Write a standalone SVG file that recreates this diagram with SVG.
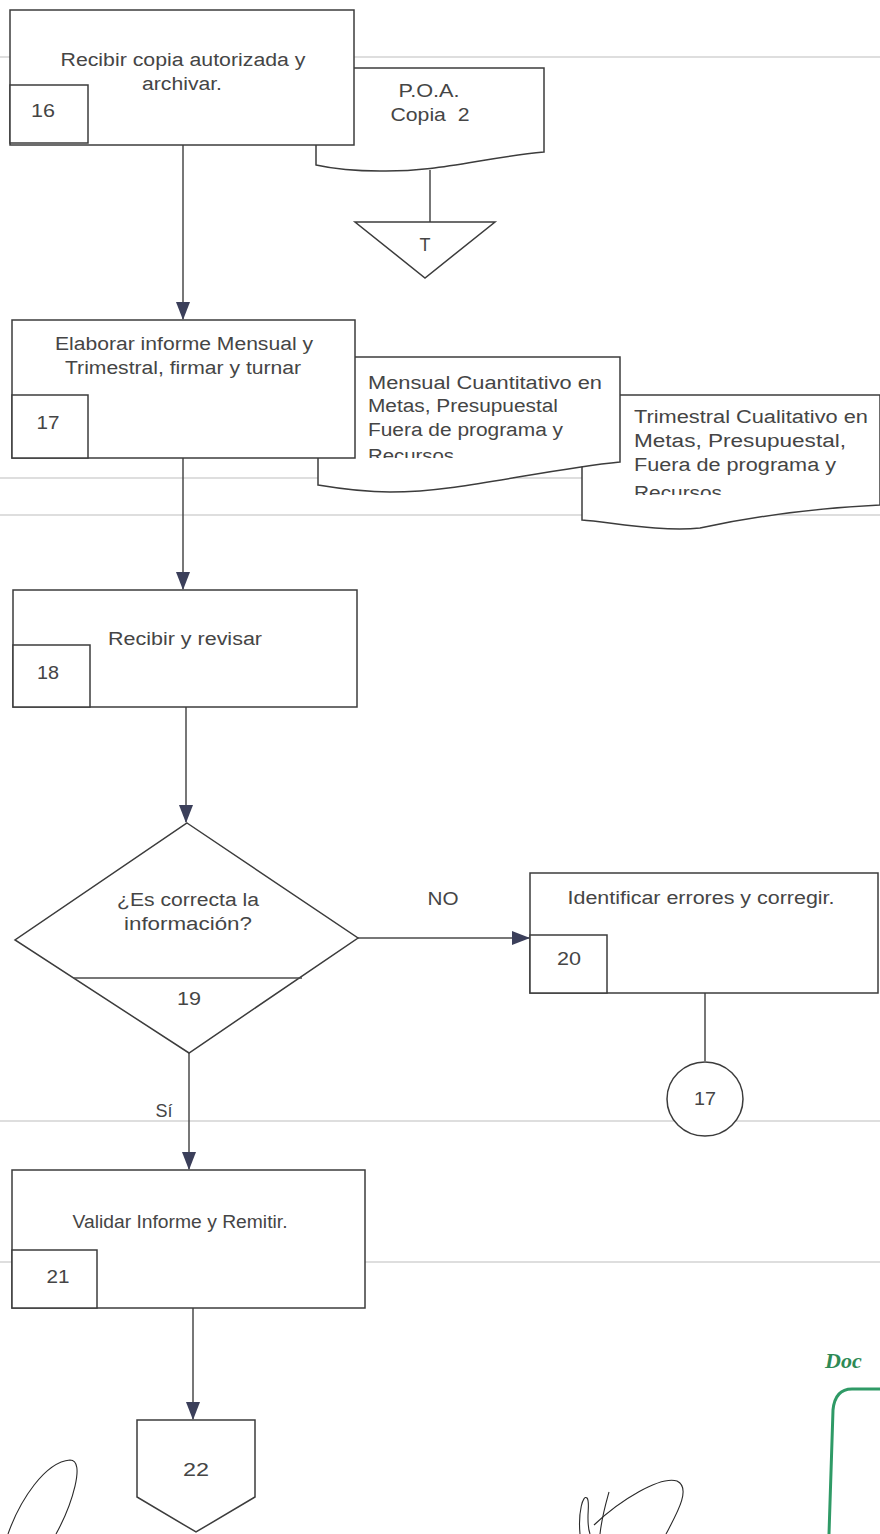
<svg xmlns="http://www.w3.org/2000/svg" width="880" height="1534" viewBox="0 0 880 1534">
  <style>
    .box { fill: #ffffff; stroke: #3c3c3c; stroke-width: 1.5; }
    .line { fill: none; stroke: #4a4a4a; stroke-width: 1.5; }
    .rule { fill: none; stroke: #bdbdbd; stroke-width: 1; }
    .t { font-family: "Liberation Sans", Arial, sans-serif; font-size: 18px; fill: #454545; }
    .c { text-anchor: middle; }
    .sig { fill: none; stroke: #2a2a2a; stroke-width: 1.1; }
  </style>
  <defs>
    <marker id="arrow" viewBox="0 0 18 14" refX="17" refY="7" markerWidth="18" markerHeight="14" markerUnits="userSpaceOnUse" orient="auto">
      <path d="M0,0 L18,7 L0,14 Z" fill="#3b3f5a"/>
    </marker>
    <clipPath id="clipDoc1"><rect x="318" y="357" width="302" height="101"/></clipPath>
    <clipPath id="clipDoc2"><rect x="582" y="395" width="298" height="100"/></clipPath>
  </defs>

  <rect x="0" y="0" width="880" height="1534" fill="#ffffff"/>

  <!-- ruled lines of the form -->
  <g id="rules">
    <path class="rule" d="M0,57 H880"/>
    <path class="rule" d="M0,478 H880"/>
    <path class="rule" d="M0,515 H880"/>
    <path class="rule" d="M0,1121 H880"/>
    <path class="rule" d="M0,1262 H880"/>
  </g>

  <!-- documents (drawn first so boxes overlap them) -->
  <g id="doc-poa">
    <path class="box" d="M316,68 H544 V152 C480,158 440,172 380,171 C345,171 325,167 316,165 Z"/>
    <text class="t c" x="429" y="97" textLength="61" lengthAdjust="spacingAndGlyphs">P.O.A.</text>
    <text class="t c" x="430" y="121" textLength="79" lengthAdjust="spacingAndGlyphs" xml:space="preserve">Copia  2</text>
  </g>

  <g id="doc-trimestral">
    <path class="box" d="M582,395 H880 V505 C820,508 760,515 700,528 C660,532 610,522 582,520 Z"/>
    <g clip-path="url(#clipDoc2)">
      <text class="t" x="634" y="423" textLength="234" lengthAdjust="spacingAndGlyphs">Trimestral Cualitativo en</text>
      <text class="t" x="634" y="447" textLength="212" lengthAdjust="spacingAndGlyphs">Metas, Presupuestal,</text>
      <text class="t" x="634" y="471" textLength="202" lengthAdjust="spacingAndGlyphs">Fuera de programa y</text>
      <text class="t" x="634" y="499" textLength="88" lengthAdjust="spacingAndGlyphs">Recursos</text>
    </g>
  </g>

  <g id="doc-mensual">
    <path class="box" d="M318,357 H620 V462 C540,470 460,492 390,492 C360,492 330,487 318,485 Z"/>
    <g clip-path="url(#clipDoc1)">
      <text class="t" x="368" y="389" textLength="234" lengthAdjust="spacingAndGlyphs">Mensual Cuantitativo en</text>
      <text class="t" x="368" y="412" textLength="190" lengthAdjust="spacingAndGlyphs">Metas, Presupuestal</text>
      <text class="t" x="368" y="436" textLength="195" lengthAdjust="spacingAndGlyphs">Fuera de programa y</text>
      <text class="t" x="368" y="462" textLength="86" lengthAdjust="spacingAndGlyphs">Recursos</text>
    </g>
  </g>

  <!-- connectors -->
  <g id="connectors">
    <path class="line" d="M183,145 V319" marker-end="url(#arrow)"/>
    <path class="line" d="M430,170 V222"/>
    <path class="line" d="M183,458 V589" marker-end="url(#arrow)"/>
    <path class="line" d="M186,707 V822" marker-end="url(#arrow)"/>
    <path class="line" d="M358,938 H529" marker-end="url(#arrow)"/>
    <path class="line" d="M705,993 V1061"/>
    <path class="line" d="M189,1053 V1169" marker-end="url(#arrow)"/>
    <path class="line" d="M193,1308 V1419" marker-end="url(#arrow)"/>
    <text class="t c" x="443" y="905" textLength="31" lengthAdjust="spacingAndGlyphs">NO</text>
    <text class="t c" x="164" y="1117">Sí</text>
  </g>

  <g id="node-16">
    <rect class="box" x="10" y="10" width="344" height="135"/>
    <rect class="box" x="10" y="85" width="78" height="58"/>
    <text class="t c" x="183" y="66" textLength="245" lengthAdjust="spacingAndGlyphs">Recibir copia autorizada y</text>
    <text class="t c" x="182" y="90" textLength="80" lengthAdjust="spacingAndGlyphs">archivar.</text>
    <text class="t c" x="43" y="117" textLength="24" lengthAdjust="spacingAndGlyphs">16</text>
  </g>

  <g id="node-T">
    <path class="box" d="M355,222 H495 L425,278 Z"/>
    <text class="t c" x="425" y="251">T</text>
  </g>

  <g id="node-17">
    <rect class="box" x="12" y="320" width="343" height="138"/>
    <rect class="box" x="12" y="395" width="76" height="63"/>
    <text class="t c" x="184" y="350" textLength="258" lengthAdjust="spacingAndGlyphs">Elaborar informe Mensual y</text>
    <text class="t c" x="183" y="374" textLength="236" lengthAdjust="spacingAndGlyphs">Trimestral, firmar y turnar</text>
    <text class="t c" x="48" y="429" textLength="23" lengthAdjust="spacingAndGlyphs">17</text>
  </g>

  <g id="node-18">
    <rect class="box" x="13" y="590" width="344" height="117"/>
    <rect class="box" x="13" y="645" width="77" height="62"/>
    <text class="t c" x="185" y="645" textLength="154" lengthAdjust="spacingAndGlyphs">Recibir y revisar</text>
    <text class="t c" x="48" y="679" textLength="22" lengthAdjust="spacingAndGlyphs">18</text>
  </g>

  <g id="node-19">
    <path class="box" d="M187,823 L358,938 L189,1053 L15,940 Z"/>
    <path class="line" d="M74,978 H302"/>
    <text class="t c" x="188" y="906" textLength="142" lengthAdjust="spacingAndGlyphs">¿Es correcta la</text>
    <text class="t c" x="188" y="930" textLength="128" lengthAdjust="spacingAndGlyphs">información?</text>
    <text class="t c" x="189" y="1005" textLength="24" lengthAdjust="spacingAndGlyphs">19</text>
  </g>

  <g id="node-20">
    <rect class="box" x="530" y="873" width="348" height="120"/>
    <rect class="box" x="530" y="935" width="77" height="58"/>
    <text class="t c" x="701" y="904" textLength="267" lengthAdjust="spacingAndGlyphs">Identificar errores y corregir.</text>
    <text class="t c" x="569" y="965" textLength="24" lengthAdjust="spacingAndGlyphs">20</text>
  </g>

  <g id="node-17-ref">
    <ellipse class="box" cx="705" cy="1099" rx="38" ry="37"/>
    <text class="t c" x="705" y="1105" textLength="22" lengthAdjust="spacingAndGlyphs">17</text>
  </g>

  <g id="node-21">
    <rect class="box" x="12" y="1170" width="353" height="138"/>
    <rect class="box" x="12" y="1250" width="85" height="58"/>
    <text class="t c" x="180" y="1228" textLength="215" lengthAdjust="spacingAndGlyphs">Validar Informe y Remitir.</text>
    <text class="t c" x="58" y="1283" textLength="23" lengthAdjust="spacingAndGlyphs">21</text>
  </g>

  <g id="node-22">
    <path class="box" d="M137,1420 H255 V1497 L196,1532 L137,1497 Z"/>
    <text class="t c" x="196" y="1476" textLength="26" lengthAdjust="spacingAndGlyphs">22</text>
  </g>

  <!-- signatures and stamp -->
  <g id="signatures">
    <path class="sig" d="M8,1534 C20,1500 45,1462 70,1460 C86,1460 72,1505 56,1534"/>
    <path class="sig" d="M580,1534 C578,1512 583,1494 587,1498 C591,1502 585,1520 590,1534"/>
    <path class="sig" d="M594,1525 C620,1500 660,1476 677,1481 C692,1488 676,1515 666,1534"/>
    <path class="sig" d="M600,1534 C602,1516 606,1503 609,1492"/>
  </g>
  <g id="stamp">
    <text x="825" y="1368" font-family="'Liberation Serif', serif" font-size="22" font-weight="bold" font-style="italic" fill="#2e8a55">Doc</text>
    <path d="M880,1389 H852 Q835,1389 833,1410 L829,1534" fill="none" stroke="#2f9a66" stroke-width="3"/>
  </g>
</svg>
